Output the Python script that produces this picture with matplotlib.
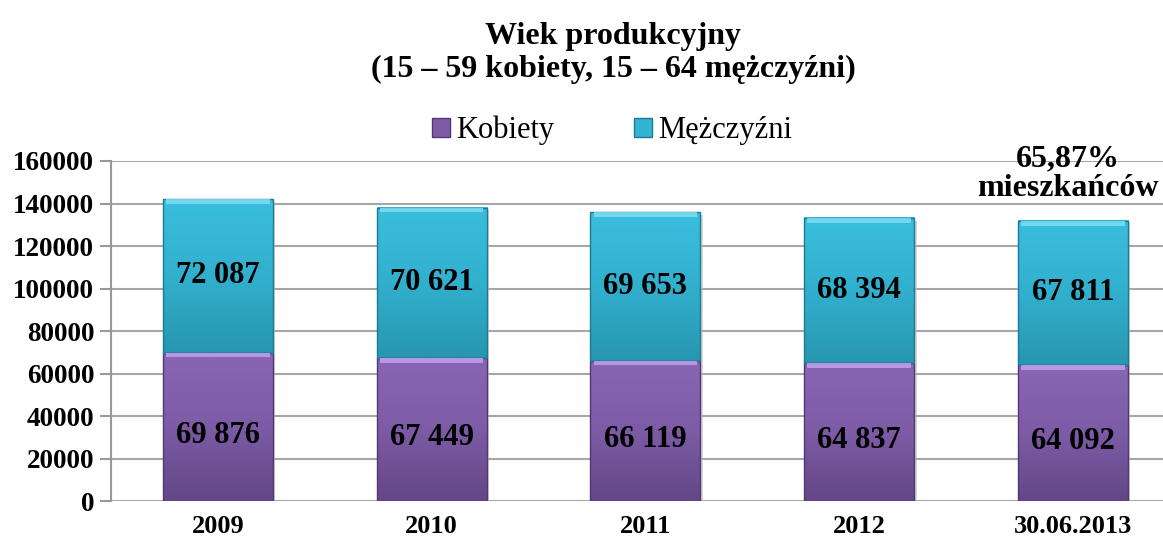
import matplotlib.pyplot as plt
from matplotlib.patches import Patch
from matplotlib.colors import LinearSegmentedColormap
import numpy as np

plt.rcParams['font.family'] = ['Liberation Serif', 'DejaVu Serif']

years = ['2009', '2010', '2011', '2012', '30.06.2013']
kobiety = np.array([69876, 67449, 66119, 64837, 64092])
mezczyzni = np.array([72087, 70621, 69653, 68394, 67811])
k_labels = ['69 876', '67 449', '66 119', '64 837', '64 092']
m_labels = ['72 087', '70 621', '69 653', '68 394', '67 811']

purple, purple_lt, purple_dk = '#7E5BA7', '#C4A0EE', '#523872'
cyan, cyan_lt, cyan_dk = '#33B4D2', '#80DCF2', '#1D7A91'

cm_k = LinearSegmentedColormap.from_list('k', ['#634786', '#7D5BA6', '#8966B5'])
cm_m = LinearSegmentedColormap.from_list('m', ['#2896B0', '#31B0CE', '#3ABEDD'])
grad = np.linspace(0, 1, 100).reshape(-1, 1)

fig = plt.figure(figsize=(11.63, 5.43), dpi=100)
ax = fig.add_axes([0.0954, 0.0773, 0.919, 0.6262])

x = np.arange(len(years))
w = 0.515
bevel = 2300

# shadow
ax.bar(x + 0.012, kobiety + mezczyzni, w, bottom=-1300, color='#BDBDBD', alpha=0.6, zorder=2)
for i in x:
    l, r = x[i] - w / 2, x[i] + w / 2
    ax.imshow(grad, cmap=cm_k, origin='lower', aspect='auto',
              extent=(l, r, 0, kobiety[i]), zorder=3)
    ax.imshow(grad, cmap=cm_m, origin='lower', aspect='auto',
              extent=(l, r, kobiety[i], kobiety[i] + mezczyzni[i]), zorder=3)
ax.bar(x, kobiety, w, fill=False, edgecolor=purple_dk, lw=1, zorder=4)
ax.bar(x, mezczyzni, w, bottom=kobiety, fill=False, edgecolor=cyan_dk, lw=1, zorder=4)
# bevel strips
ax.bar(x, bevel, w - 0.03, bottom=kobiety - bevel, color=purple_lt, alpha=0.85, lw=0, zorder=4)
ax.bar(x, bevel, w - 0.03, bottom=kobiety + mezczyzni - bevel, color=cyan_lt, alpha=0.85, lw=0, zorder=4)

for i in x:
    ax.text(i, kobiety[i] / 2 - 4000, k_labels[i], ha='center', va='center',
            fontsize=22, fontweight='bold', zorder=5)
    ax.text(i, kobiety[i] + mezczyzni[i] / 2, m_labels[i], ha='center', va='center',
            fontsize=22, fontweight='bold', zorder=5)

ax.text(x[-1] - 0.025, 154000, '65,87%\nmieszkańców', ha='center', va='center',
        fontsize=23, fontweight='bold', linespacing=1.0, zorder=6, clip_on=False)

ax.set_xlim(-0.5, len(years) - 0.5)
ax.set_ylim(0, 160000)
ax.set_yticks(np.arange(0, 160001, 20000))
ax.set_xticks(x)
ax.set_xticklabels(years, fontsize=19, fontweight='bold')
for lab in ax.get_yticklabels():
    lab.set_fontsize(19.5)
    lab.set_fontweight('bold')
ax.tick_params(axis='x', length=0, pad=10)
ax.tick_params(axis='y', direction='out', length=8, width=1.5, color='#999999', pad=4)
ax.yaxis.grid(True, color='#A6A6A6', lw=1.5, zorder=0)
ax.set_axisbelow(True)
for s in ['top', 'right', 'bottom']:
    ax.spines[s].set_visible(False)
ax.spines['left'].set_color('#999999')
ax.spines['left'].set_linewidth(1.5)

handles = [Patch(facecolor=purple, edgecolor=purple_dk), Patch(facecolor=cyan, edgecolor=cyan_dk)]
fig.legend(handles, ['Kobiety', 'Mężczyźni'], loc='center', bbox_to_anchor=(0.526, 0.76),
           ncol=2, frameon=False, fontsize=22, handlelength=0.6, handleheight=0.6,
           handletextpad=0.2, columnspacing=2.6)

fig.text(0.527, 0.902, 'Wiek produkcyjny\n(15 – 59 kobiety, 15 – 64 mężczyźni)',
         ha='center', va='center', fontsize=23, fontweight='bold', linespacing=1.2)

fig.savefig('out.png', dpi=100)
